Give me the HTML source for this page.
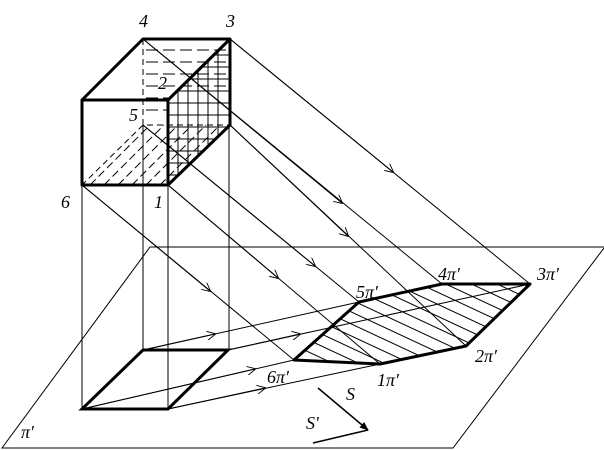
<!DOCTYPE html>
<html><head><meta charset="utf-8"><style>
html,body{margin:0;padding:0;background:#fff;}
svg{display:block;}
text{font-family:"Liberation Serif",serif;font-style:italic;font-size:18px;fill:#000;}
</style></head><body>
<svg width="604" height="450" viewBox="0 0 604 450" xmlns="http://www.w3.org/2000/svg">
<defs>
<marker id="a" viewBox="0 0 10 10" refX="9" refY="5" markerWidth="9" markerHeight="9" orient="auto" markerUnits="userSpaceOnUse">
<path d="M0,0 L10,5 L0,10" fill="none" stroke="#000" stroke-width="1"/></marker>
<marker id="b" viewBox="0 0 10 10" refX="9" refY="5" markerWidth="9" markerHeight="9" orient="auto" markerUnits="userSpaceOnUse">
<path d="M0,1 L10,5 L0,9 z" fill="#000"/></marker>
<clipPath id="poly"><polygon points="294,360 359,302 442,284 530,284 466,346 380,364"/></clipPath>
<clipPath id="rf"><polygon points="168,100 230,39 230,125 168,185"/></clipPath>
<clipPath id="bf"><polygon points="82,185 143,125 230,125 168,185"/></clipPath>
</defs>
<g stroke="#000" fill="none" stroke-width="1">
<polyline points="604,247 150,247 2,448 453,448 604,248"/>
<line x1="82" y1="185" x2="82" y2="409"/>
<line x1="168" y1="185" x2="168" y2="409"/>
<line x1="143" y1="125" x2="143" y2="350"/>
<line x1="229" y1="125" x2="229" y2="350"/>
<line x1="82" y1="185" x2="294" y2="360"/>
<line x1="168" y1="185" x2="380" y2="364"/>
<line x1="230" y1="39" x2="530" y2="284"/>
<line x1="143" y1="39" x2="442" y2="284"/>
<line x1="143" y1="125" x2="359" y2="302"/>
<line x1="230" y1="125" x2="466" y2="346"/>
<line x1="82" y1="185" x2="210" y2="291" marker-end="url(#a)"/>
<line x1="168" y1="185" x2="278" y2="278" marker-end="url(#a)"/>
<line x1="230" y1="39" x2="393" y2="172" marker-end="url(#a)"/>
<line x1="143" y1="39" x2="342" y2="203" marker-end="url(#a)"/>
<line x1="143" y1="125" x2="315" y2="266" marker-end="url(#a)"/>
<line x1="230" y1="125" x2="348" y2="236" marker-end="url(#a)"/>
<line x1="143" y1="350" x2="359" y2="302"/>
<line x1="143" y1="350" x2="215" y2="334" marker-end="url(#a)"/>
<line x1="228" y1="350" x2="530" y2="284"/>
<line x1="228" y1="350" x2="300" y2="334" marker-end="url(#a)"/>
<line x1="82" y1="409" x2="294" y2="360"/>
<line x1="82" y1="409" x2="255" y2="369" marker-end="url(#a)"/>
<line x1="168" y1="409" x2="380" y2="364"/>
<line x1="168" y1="409" x2="265" y2="388" marker-end="url(#a)"/>
<g clip-path="url(#poly)">
<path d="M270,250 l300,140 M285,245 l300,140 M300,240 l300,140 M315,235 l300,140 M330,230 l300,140 M345,225 l300,140 M360,220 l300,140 M375,215 l300,140 M390,210 l300,140 M405,205 l300,140 M420,200 l300,140 M435,195 l300,140 M450,190 l300,140 M255,255 l300,140 M240,260 l300,140 M225,265 l300,140 M210,270 l300,140 M195,275 l300,140 M180,280 l300,140 M165,285 l300,140"/>
</g>
<polygon points="294,360 359,302 442,284 530,284 466,346 380,364" stroke-width="3" stroke-linejoin="round"/>
<polygon points="82,409 168,409 228,350 143,350" stroke-width="3"/>
<g clip-path="url(#rf)">
<path d="M178,40v150M188,40v150M198,40v150M208,40v150M218,40v150M160,55h80M160,67h80M160,79h80M160,91h80M160,103h80M160,115h80M160,127h80M160,139h80M160,151h80M160,163h80M160,175h80"/>
</g>
<g stroke-dasharray="12,5">
<path d="M146,50h80M146,62h80M146,74h80M146,86h80M146,98h22M146,110h22"/>
</g>
<g clip-path="url(#bf)" stroke-dasharray="8,4">
<path d="M90,185l60,-60M104,185l60,-60M118,185l60,-60M132,185l60,-60M146,185l60,-60M160,185l60,-60"/>
</g>
<path d="M143,39V125H230M143,125L82,185" stroke-dasharray="6,4"/>
<g stroke-width="3" stroke-linejoin="round">
<rect x="82" y="100" width="86" height="85"/>
<polyline points="82,100 143,39 230,39 168,100"/>
<polyline points="230,39 230,125 168,185"/>
</g>
<line x1="318" y1="388" x2="368" y2="430" stroke-width="1.5" marker-end="url(#b)"/>
<line x1="313" y1="443" x2="368" y2="430" stroke-width="1.5"/>
</g>
<text x="139" y="27">4</text>
<text x="226" y="27">3</text>
<text x="158" y="89">2</text>
<text x="129" y="121">5</text>
<text x="61" y="208">6</text>
<text x="154" y="208">1</text>
<text x="356" y="298">5π′</text>
<text x="438" y="280">4π′</text>
<text x="537" y="280">3π′</text>
<text x="475" y="362">2π′</text>
<text x="377" y="386">1π′</text>
<text x="267" y="383">6π′</text>
<text x="346" y="400">S</text>
<text x="306" y="429">S′</text>
<text x="21" y="438">π′</text>
</svg>
</body></html>
